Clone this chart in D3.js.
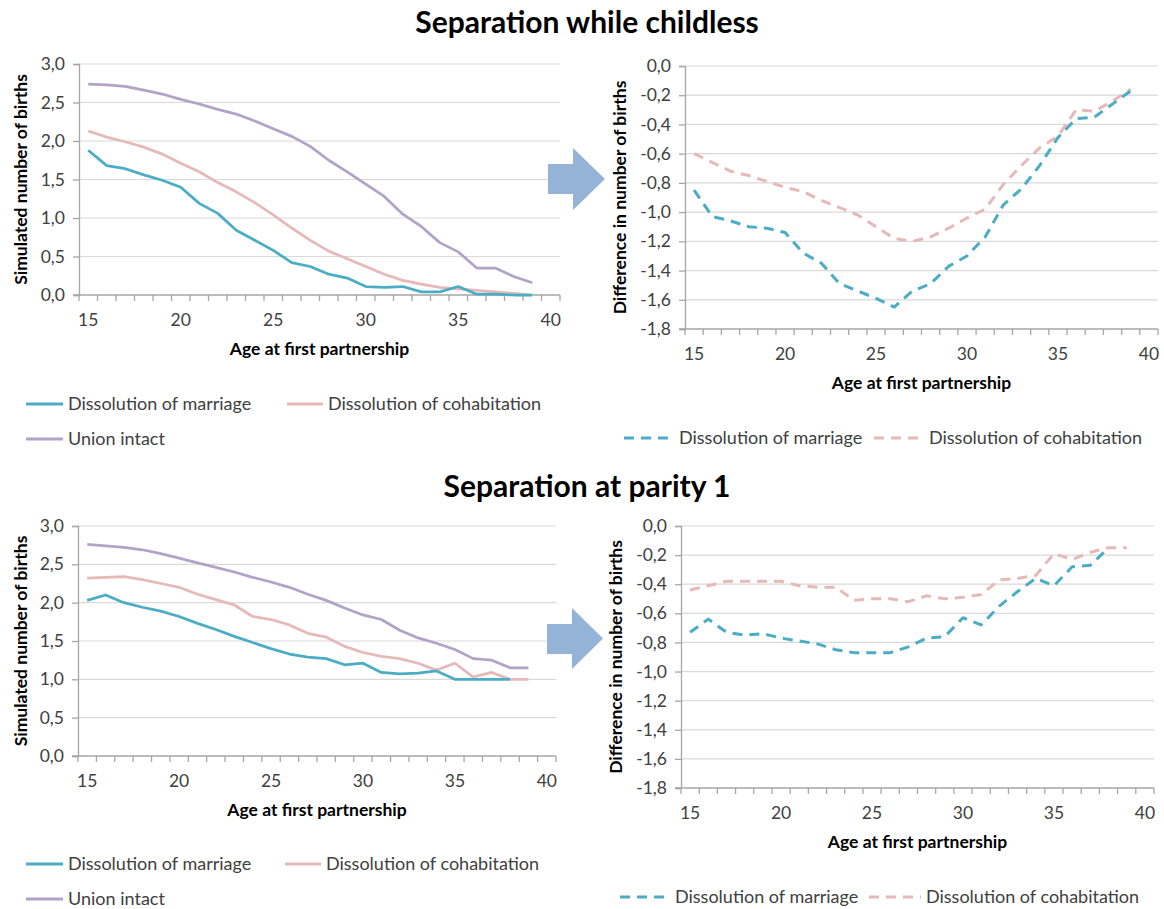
<!DOCTYPE html>
<html>
<head>
<meta charset="utf-8">
<script src="https://cdn.jsdelivr.net/npm/d3@7"></script>
<style>
  html, body { margin: 0; padding: 0; background: #fff; }
  svg { display: block; font-family: Lato, "Open Sans", sans-serif; }
</style>
</head>
<body>
<svg id="chart" width="1164" height="909"></svg>
<script>
// ---------- Data ----------
const ages = [15,16,17,18,19,20,21,22,23,24,25,26,27,28,29,30,31,32,33,34,35,36,37,38,39];
const xCategories = [15,16,17,18,19,20,21,22,23,24,25,26,27,28,29,30,31,32,33,34,35,36,37,38,39,40];
const xTickLabels = [15,20,25,30,35,40];
const yTicksLevel = [0,0.5,1,1.5,2,2.5,3];
const yTicksDiff = [0,-0.2,-0.4,-0.6,-0.8,-1.0,-1.2,-1.4,-1.6,-1.8];

const seriesNames = ["Dissolution of marriage", "Dissolution of cohabitation", "Union intact"];
const panelTitles = ["Separation while childless", "Separation at parity 1"];
const levelAxisTitle = "Simulated number of births";
const diffAxisTitle = "Difference in number of births";
const xAxisTitle = "Age at first partnership";

// Separation while childless
const childlessMarriage = [1.88,1.68,1.64,1.56,1.49,1.40,1.19,1.06,0.84,0.71,0.58,0.42,0.37,0.27,0.22,0.11,0.10,0.11,0.04,0.04,0.11,0.01,0.01,0.00,0.00];
const childlessCohab    = [2.13,2.05,1.99,1.92,1.83,1.71,1.60,1.46,1.34,1.20,1.04,0.87,0.71,0.57,0.47,0.37,0.27,0.19,0.14,0.10,0.08,0.06,0.04,0.02,0.00];
const childlessIntact   = [2.74,2.73,2.71,2.66,2.61,2.54,2.48,2.41,2.35,2.26,2.16,2.06,1.93,1.75,1.60,1.44,1.28,1.05,0.89,0.68,0.56,0.35,0.35,0.24,0.16];
const childlessDiffMarriage = [-0.85,-1.03,-1.06,-1.10,-1.11,-1.14,-1.28,-1.35,-1.49,-1.54,-1.59,-1.65,-1.54,-1.49,-1.37,-1.30,-1.17,-0.95,-0.84,-0.68,-0.49,-0.36,-0.35,-0.26,-0.17];
const childlessDiffCohab    = [-0.60,-0.66,-0.72,-0.75,-0.79,-0.83,-0.86,-0.92,-0.97,-1.02,-1.10,-1.18,-1.20,-1.17,-1.11,-1.04,-0.98,-0.81,-0.68,-0.56,-0.48,-0.30,-0.31,-0.24,-0.16];

// Separation at parity 1
const parity1Marriage = [2.03,2.10,2.00,1.94,1.89,1.82,1.73,1.65,1.56,1.48,1.40,1.33,1.29,1.27,1.19,1.21,1.09,1.07,1.08,1.11,1.00,1.00,1.00,1.00,null];
const parity1Cohab    = [2.32,2.33,2.34,2.30,2.25,2.20,2.11,2.04,1.97,1.82,1.78,1.71,1.60,1.55,1.43,1.35,1.30,1.27,1.21,1.12,1.21,1.03,1.09,1.00,1.00];
const parity1Intact   = [2.76,2.74,2.72,2.69,2.64,2.58,2.52,2.46,2.40,2.33,2.27,2.20,2.11,2.03,1.93,1.84,1.78,1.64,1.54,1.47,1.39,1.27,1.25,1.15,1.15];
const parity1DiffMarriage = [-0.73,-0.64,-0.73,-0.75,-0.74,-0.77,-0.79,-0.81,-0.85,-0.87,-0.87,-0.87,-0.83,-0.77,-0.76,-0.63,-0.68,-0.55,-0.45,-0.36,-0.41,-0.28,-0.27,-0.15,null];
const parity1DiffCohab    = [-0.44,-0.41,-0.38,-0.38,-0.38,-0.38,-0.41,-0.42,-0.42,-0.51,-0.50,-0.50,-0.52,-0.48,-0.50,-0.49,-0.47,-0.37,-0.36,-0.34,-0.19,-0.23,-0.18,-0.15,-0.15];

// ---------- Styles ----------
const colMarriage = "#4bacc6";
const colCohab = "#e6b9b8";
const colIntact = "#b3a2c7";
const colArrow = "#95b3d7";
const colGrid = "#d9d9d9";
const colAxis = "#a6a6a6";
const colText = "#404040";
const tickFont = "17.5px";
const titleFont = 17.5;
const legendFont = 18;

const locale = d3.formatLocale({decimal: ",", thousands: ".", grouping: [3], currency: ["", ""], minus: "-"});
const fmt = locale.format(".1f");

const svg = d3.select("#chart");

function panel(cfg) {
  const g = svg.append("g");
  const x = d3.scaleBand().domain(xCategories).range([cfg.x0, cfg.x1]);
  const bw = x.bandwidth();
  const y = d3.scaleLinear().domain(cfg.yDomain).range([cfg.yBot, cfg.yTop]);
  const xc = a => x(a) + bw / 2;

  // gridlines
  g.append("g").selectAll("line")
    .data(cfg.yTicks.filter(v => v !== cfg.yDomain[0]))
    .join("line")
    .attr("x1", cfg.x0).attr("x2", cfg.x1)
    .attr("y1", d => y(d)).attr("y2", d => y(d))
    .attr("stroke", colGrid).attr("stroke-width", 1.2);

  // y axis
  const ya = g.append("g").attr("transform", `translate(${cfg.x0},0)`)
    .call(d3.axisLeft(y).tickValues(cfg.yTicks).tickSize(6).tickPadding(8).tickFormat(fmt));
  ya.select(".domain").attr("stroke", colAxis).attr("stroke-width", 1.3);
  ya.selectAll(".tick line").attr("stroke", colAxis).attr("stroke-width", 1.3);
  ya.selectAll("text").attr("fill", colText).style("font-size", tickFont).style("font-family", "Lato, sans-serif");

  // x axis: boundary ticks
  const boundaries = xCategories.map(c => x(c)).concat([cfg.x1]);
  const xl = g.append("g");
  xl.append("line").attr("x1", cfg.x0 - 6).attr("x2", cfg.x1).attr("y1", cfg.yBot).attr("y2", cfg.yBot)
    .attr("stroke", colAxis).attr("stroke-width", 1.3);
  xl.selectAll("line.tk").data(boundaries).join("line").attr("class", "tk")
    .attr("x1", d => d).attr("x2", d => d).attr("y1", cfg.yBot).attr("y2", cfg.yBot + 6)
    .attr("stroke", colAxis).attr("stroke-width", 1.3);
  const xa = g.append("g").attr("transform", `translate(0,${cfg.yBot})`)
    .call(d3.axisBottom(x).tickValues(xTickLabels).tickSize(0).tickPadding(19));
  xa.select(".domain").remove();
  xa.selectAll("text").attr("fill", colText).style("font-size", tickFont).style("font-family", "Lato, sans-serif");

  // axis titles
  g.append("text").attr("x", (cfg.x0 + cfg.x1) / 2).attr("y", cfg.yBot + 60)
    .attr("text-anchor", "middle").attr("font-weight", "bold").attr("font-size", titleFont).attr("fill", "#000")
    .text(xAxisTitle);
  g.append("text").attr("transform", `translate(${cfg.yTitleX},${(cfg.yTop + cfg.yBot) / 2}) rotate(-90)`)
    .attr("text-anchor", "middle").attr("font-weight", "bold").attr("font-size", titleFont).attr("fill", "#000")
    .text(cfg.yTitle);

  // lines
  const line = d3.line().defined(d => d[1] !== null).x(d => xc(d[0])).y(d => y(d[1]));
  cfg.series.forEach(s => {
    g.append("path").datum(ages.map((a, i) => [a, s.values[i]]))
      .attr("d", line).attr("fill", "none").attr("stroke", s.color)
      .attr("stroke-width", s.dashed ? 3 : 2.75)
      .attr("stroke-dasharray", s.dashed ? "10,7" : null)
      .attr("stroke-linejoin", "round");
  });

  // legend
  cfg.legend.forEach(it => {
    g.append("line").attr("x1", it.lx1).attr("x2", it.lx2).attr("y1", it.y).attr("y2", it.y)
      .attr("stroke", it.color).attr("stroke-width", 3)
      .attr("stroke-dasharray", it.dashed ? "10,7" : null);
    g.append("text").attr("x", it.lx2 + 5).attr("y", it.y + 6)
      .attr("font-size", legendFont).attr("fill", colText).text(it.name);
  });
}

function arrow(cx, top, bot, tipX, rTop, rBot) {
  const pts = [[cx - 25, rTop], [cx, rTop], [cx, top], [tipX, (top + bot) / 2], [cx, bot], [cx, rBot], [cx - 25, rBot]];
  svg.append("polygon").attr("points", pts.map(p => p.join(",")).join(" ")).attr("fill", colArrow);
}

// Titles
svg.append("text").attr("x", 587).attr("y", 33).attr("text-anchor", "middle")
  .attr("font-weight", "bold").attr("font-size", 30).attr("fill", "#000").text(panelTitles[0]);
svg.append("text").attr("x", 587).attr("y", 497).attr("text-anchor", "middle")
  .attr("font-weight", "bold").attr("font-size", 30).attr("fill", "#000").text(panelTitles[1]);

// Panel 1
panel({x0: 79, x1: 560, yTop: 64, yBot: 295, yDomain: [0, 3], yTicks: yTicksLevel, yTitle: levelAxisTitle, yTitleX: 27,
  series: [
    {values: childlessIntact, color: colIntact},
    {values: childlessCohab, color: colCohab},
    {values: childlessMarriage, color: colMarriage}],
  legend: [
    {name: seriesNames[0], color: colMarriage, lx1: 26, lx2: 63, y: 404},
    {name: seriesNames[1], color: colCohab, lx1: 287, lx2: 323, y: 404},
    {name: seriesNames[2], color: colIntact, lx1: 26, lx2: 63, y: 439}]
});
// Panel 2
panel({x0: 685, x1: 1158, yTop: 66, yBot: 329, yDomain: [-1.8, 0], yTicks: yTicksDiff, yTitle: diffAxisTitle, yTitleX: 626,
  series: [
    {values: childlessDiffCohab, color: colCohab, dashed: true},
    {values: childlessDiffMarriage, color: colMarriage, dashed: true}],
  legend: [
    {name: seriesNames[0], color: colMarriage, dashed: true, lx1: 624, lx2: 674, y: 438},
    {name: seriesNames[1], color: colCohab, dashed: true, lx1: 874, lx2: 924, y: 438}]
});
// Panel 3
panel({x0: 78, x1: 556, yTop: 526, yBot: 756, yDomain: [0, 3], yTicks: yTicksLevel, yTitle: levelAxisTitle, yTitleX: 27,
  series: [
    {values: parity1Intact, color: colIntact},
    {values: parity1Cohab, color: colCohab},
    {values: parity1Marriage, color: colMarriage}],
  legend: [
    {name: seriesNames[0], color: colMarriage, lx1: 26, lx2: 63, y: 864},
    {name: seriesNames[1], color: colCohab, lx1: 285, lx2: 321, y: 864},
    {name: seriesNames[2], color: colIntact, lx1: 26, lx2: 63, y: 899}]
});
// Panel 4
panel({x0: 681, x1: 1154, yTop: 526, yBot: 788, yDomain: [-1.8, 0], yTicks: yTicksDiff, yTitle: diffAxisTitle, yTitleX: 622,
  series: [
    {values: parity1DiffCohab, color: colCohab, dashed: true},
    {values: parity1DiffMarriage, color: colMarriage, dashed: true}],
  legend: [
    {name: seriesNames[0], color: colMarriage, dashed: true, lx1: 620, lx2: 670, y: 897},
    {name: seriesNames[1], color: colCohab, dashed: true, lx1: 869, lx2: 921, y: 897}]
});

// Arrows
arrow(573, 148, 210, 605, 164, 194);
arrow(572, 608, 669, 603, 624, 654);
</script>
</body>
</html>
